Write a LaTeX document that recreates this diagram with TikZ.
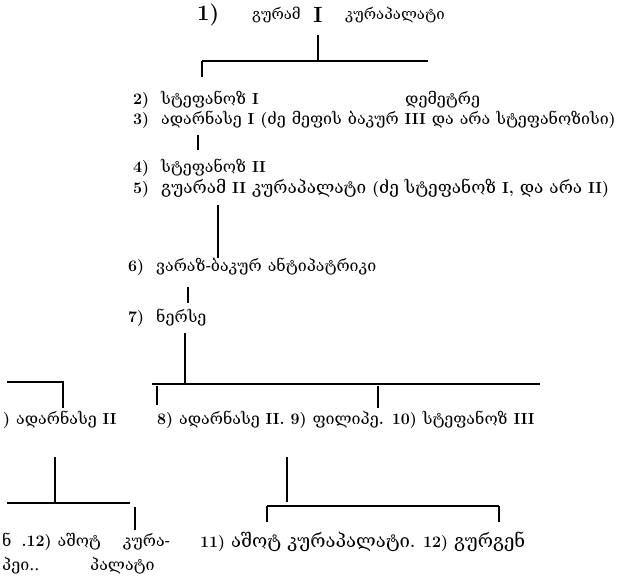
\documentclass[tikz,border=0pt]{standalone}
\usepackage{fontspec}
\usepackage{tikz}
\newfontfamily\kafont{DejaVu Serif}
\newcommand\ka[1]{{\kafont\mdseries #1}}
\newcommand\kaM[1]{{\kafont\mdseries\fontsize{17.2}{21}\selectfont #1}}
\newcommand\kaL[1]{{\kafont\mdseries\fontsize{18.5}{22}\selectfont #1}}
\newcommand\widesp{\spaceskip 6pt plus 2pt\relax}

\begin{document}
\begin{tikzpicture}[x=1pt,y=-1pt,
    row/.style={anchor=west,inner sep=0pt,
      font=\fontsize{16}{19}\selectfont\bfseries\widesp},
    big/.style={anchor=west,inner sep=0pt,font=\fontsize{22}{26}\selectfont\bfseries},
    kbig/.style={anchor=west,inner sep=0pt,font=\fontsize{15}{18}\selectfont},
    tline/.style={line width=1.1pt}]
  \useasboundingbox (0,0) rectangle (630,579);
  % Guaram I
  \node[big] (n1) at (197,15) {1)};
  \node[kbig] (guaram) at (252,15) {\ka{გურამ}};
  \node[big,anchor=center] (rom1) at (318,15) {I};
  \node[kbig] (kurap) at (345,15) {\ka{კურაპალატი}};
  % first generation
  \coordinate (barA-l) at (202,61);
  \coordinate (barA-r) at (428,61);
  \draw[tline] (rom1.south |- 0,35) -- (rom1.south |- barA-l);
  \draw[tline] (barA-l) -- (barA-r);
  \draw[tline] (barA-l) -- ++(0,16) coordinate (dropA);
  \node[row] (st1) at (133,100) {2)\ \ \ka{სტეფანოზ} I};
  \node[row] (demetre) at (405,100) {\ka{დემეტრე}};
  \node[row] (adar1) at (133,120) {3)\ \ \ka{ადარნასე} I (\ka{ძე მეფის ბაკურ} III \ka{და არა სტეფანოზისი})};
  \coordinate (v3a) at (198,135);
  \coordinate (v3b) at (198,150);
  \draw[tline] (v3a) -- (v3b);
  \node[row] (st2) at (133,168) {4)\ \ \ka{სტეფანოზ} II};
  \node[row] (guar2) at (133,188) {5)\ \ \kaM{გუარამ} II \kaM{კურაპალატი} (\kaM{ძე სტეფანოზ} I, \kaM{და არა} II)};
  \coordinate (v5a) at (218,205);
  \coordinate (v5b) at (218,258);
  \draw[tline] (v5a) -- (v5b);
  \node[row] (varaz) at (128,267) {6)\ \ \ka{ვარაზ-ბაკურ ანტიპატრიკი}};
  \coordinate (v6a) at (188,287);
  \coordinate (v6b) at (188,303);
  \draw[tline] (v6a) -- (v6b);
  \node[row] (nerse) at (128,318) {7)\ \ \ka{ნერსე}};
  % sons of Nerse
  \coordinate (barB-l) at (152,384);
  \coordinate (barB-r) at (540,384);
  \draw[tline] (nerse.south -| 185,0) ++(0,6) -- (185,384);
  \draw[tline] (barB-l) -- (barB-r);
  \draw[tline] (157,386) -- (157,405);
  \draw[tline] (378,386) -- (378,408);
  \node[row] (adar2) at (157,420) {8)\ \ka{ადარნასე} II. 9)\ \ka{ფილიპე}. 10)\ \ka{სტეფანოზ} III};
  % left branch (cut off)
  \coordinate (barC-l) at (7,382);
  \coordinate (barC-r) at (63,382);
  \draw[tline] (barC-l) -- (barC-r) -- (63,408);
  \node[row] (adarL) at (3,420) {)\ \ka{ადარნასე} II};
  \draw[tline] (55,457) -- (55,503);
  \coordinate (barD-l) at (7,503);
  \coordinate (barD-r) at (130,503);
  \draw[tline] (barD-l) -- (barD-r);
  \draw[tline] (135,507) -- (135,530);
  \node[row] (ashotL) at (2,542) {\ka{ნ}\hspace{10pt}.12) \ka{აშოტ}\hspace{22pt}\ka{კურა-}};
  \node[row] (peiL) at (2,566) {\ka{პეი..}};
  \node[row] (palatL) at (90,566) {\ka{პალატი}};
  % children of Adarnase II
  \draw[tline] (287,457) -- (287,502);
  \coordinate (barE-l) at (267,506);
  \coordinate (barE-r) at (499,506);
  \draw[tline] (barE-l) -- (barE-r);
  \draw[tline] (barE-l) -- ++(0,16);
  \draw[tline] (barE-r) -- ++(0,16);
  \node[row] (ashot) at (200,542) {11)\ \kaL{აშოტ კურაპალატი}. 12)\ \kaL{გურგენ}};
\end{tikzpicture}
\end{document}
